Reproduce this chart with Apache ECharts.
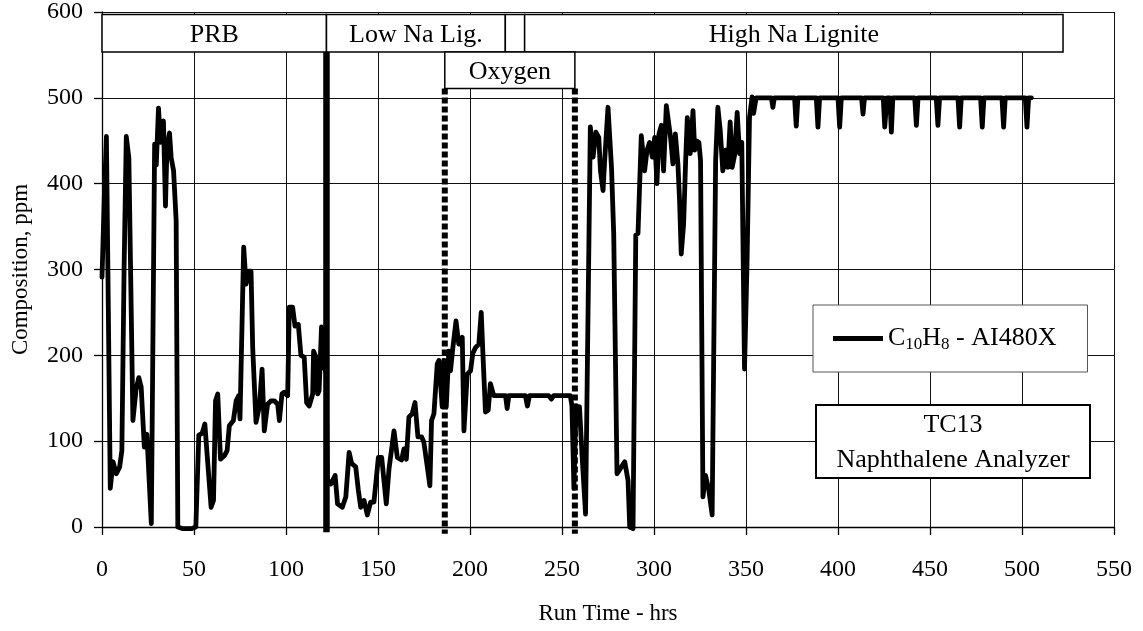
<!DOCTYPE html>
<html>
<head>
<meta charset="utf-8">
<script src="https://cdn.jsdelivr.net/npm/echarts@6/dist/echarts.min.js"></script>
<style>
  html, body { margin: 0; padding: 0; background: #fff; }
  #chart { width: 1143px; height: 631px; }
</style>
</head>
<body>
<div id="chart"></div>
<script>
// Naphthalene analyzer reading (ppm) against run time (hrs)
var runHours = [
  0, 1.2, 2.4, 3.2, 4.5, 6, 7.8, 9.6, 10.8, 12, 13.2, 14.6, 16.8, 18.5, 20, 21.3, 23, 24.4, 26.8, 28.6,
  29.5, 30.7, 31.8, 33.4, 34.5, 35.3, 36.7, 37.6, 38.9, 40.3, 41.2, 44, 48.5, 51, 52.6, 54.4, 55.9, 57.5, 59.3, 60.6,
  61.7, 62.9, 64.4, 66.5, 68, 69.2, 71.4, 72.9, 74.3, 75, 77, 78.3, 79.6, 81, 81.9, 83.7, 85.5, 87, 88.2, 90,
  91.8, 93.7, 95.5, 96.4, 97.8, 99, 100.9, 101.8, 103.6, 104.9, 106.7, 108.1, 109.9, 111.2, 112.6, 114.5, 115, 116.3, 117.2, 118,
  119.3, 119.9, 121.8, 122.5, 124.3, 126.7, 128, 130.6, 132.5, 134.3, 135.7, 137.9, 139.3, 140.6, 142.4, 144.2, 146, 147.8, 150.2, 152,
  154.5, 156, 158.7, 160.5, 162.8, 164.1, 165.4, 166.8, 168.6, 170.1, 171.7, 173.7, 174.9, 176.8, 178.2, 179.1, 180.4, 182.2, 183.1, 184.9,
  185.8, 187.1, 188.5, 189.4, 190.7, 192.4, 193.9, 195.8, 196.7, 198.5, 200.3, 201.5, 203, 204.8, 206.1, 207.1, 208.4, 209.9, 211.1, 212.9,
  219.3, 220.2, 221.1, 230.1, 231.2, 232.3, 242.8, 244.2, 245.5, 254.5, 255.4, 256.5, 257.6, 259.5, 261, 262.8, 265.4, 266.9, 268.4, 270,
  270.9, 272.3, 273.2, 275, 276.9, 278.1, 279.9, 282.3, 284.1, 285.9, 286.8, 288.6, 290.1, 291.3, 293.1, 294.9, 296.2, 297.6, 299.1, 300.4,
  301.6, 302.7, 304, 305.2, 306.7, 308, 309, 310.3, 311.6, 313, 313.9, 314.8, 316.1, 317.2, 318.1, 319.7, 321.2, 322.1, 323, 324.4,
  325.3, 326.6, 328, 329.8, 331.6, 333.5, 334.7, 336, 337.4, 338.9, 340.1, 341.4, 342.5, 343.8, 345.2, 346.5, 347.7, 349.2, 350.6, 351.9,
  353.3, 354.1, 355.5, 363.8, 364.6, 365.4, 376.4, 377.3, 378.2, 388.2, 389.1, 390, 400, 400.9, 401.8, 412.8, 413.6, 414.4, 424.6, 425.4,
  426.6, 428.2, 429, 429.8, 441.7, 442.6, 443.5, 453.4, 454.3, 455.2, 465.2, 466.1, 467, 477.5, 478.4, 479.3, 489.1, 490, 490.9, 501.8,
  502.7, 503.6, 505.1
];
var naphthalenePpm = [
  291, 380, 455, 300, 45, 76, 62, 70, 89, 300, 455, 430, 124, 160, 174, 163, 93, 108, 4, 446,
  422, 488, 448, 473, 374, 442, 459, 430, 415, 357, 0, -2, -2, 0, 107, 109, 120, 74, 23, 31,
  147, 155, 79, 83, 89, 118, 124, 147, 153, 126, 326, 283, 298, 298, 209, 122, 140, 184, 112, 143,
  147, 147, 143, 124, 155, 157, 153, 256, 256, 234, 236, 200, 198, 145, 141, 155, 205, 198, 155, 159,
  233, 190, 180, 55, 50, 60, 27, 23, 35, 87, 74, 70, 43, 23, 31, 14, 29, 29, 81, 81,
  27, 68, 112, 81, 78, 91, 79, 128, 132, 145, 105, 105, 99, 70, 48, 124, 132, 190, 194, 140,
  194, 140, 205, 182, 209, 240, 213, 221, 112, 178, 182, 202, 209, 213, 250, 198, 134, 136, 167, 153,
  153, 138, 153, 153, 141, 153, 153, 149, 153, 153, 141, 45, 141, 140, 80, 15, 466, 431, 460, 454,
  415, 392, 427, 489, 419, 342, 62, 70, 76, 54, 0, -2, 340, 342, 456, 415, 439, 448, 431, 454,
  400, 458, 468, 415, 491, 470, 454, 423, 458, 423, 380, 318, 353, 427, 477, 435, 485, 439, 450, 448,
  427, 35, 60, 43, 14, 427, 489, 462, 415, 439, 419, 472, 419, 433, 483, 435, 448, 184, 311, 477,
  501, 482, 500, 500, 489, 500, 500, 467, 500, 500, 466, 500, 500, 466, 500, 500, 481, 500, 500, 466,
  500, 500, 460, 500, 500, 468, 500, 500, 468, 500, 500, 466, 500, 500, 466, 500, 500, 466, 500, 500,
  466, 500, 500
];

// Fuel periods across the top: [label, start hrs, end hrs]
var fuelPeriods = [
  ['PRB', -2.2, 122],
  ['Low Na Lig.', 122, 219.2],
  ['', 219.2, 229.7],
  ['High Na Lignite', 229.7, 522.3]
];
var fuelBand = [553.5, 597];
// Oxygen period: start/end hrs and its label band
var oxygenPeriod = ['Oxygen', 186.3, 257];
var oxygenBand = [511, 553.5];
var oxygenLineSpan = [511, -8];
// Fuel changeover marker
var changeoverHrs = 122;
var changeoverSpan = [553.5, -6];

var xTicks = { min: 0, max: 550, step: 50 };
var yTicks = { min: 0, max: 600, step: 100 };

var seriesName = 'C10H8 - AI480X';
var serif = '"Liberation Serif", "Times New Roman", serif';

var lineData = runHours.map(function (h, i) { return [h, naphthalenePpm[i]]; });

var areas = fuelPeriods.map(function (p) {
  return [
    { name: p[0], coord: [p[1], fuelBand[1]] },
    { coord: [p[2], fuelBand[0]] }
  ];
});
areas.push([
  { name: oxygenPeriod[0], coord: [oxygenPeriod[1], oxygenBand[1]] },
  { coord: [oxygenPeriod[2], oxygenBand[0]] }
]);

var chart = echarts.init(document.getElementById('chart'), null, { renderer: 'canvas' });

chart.setOption({
  animation: false,
  backgroundColor: '#fff',
  grid: { left: 102, right: 29, top: 12, bottom: 104, containLabel: false },
  title: {
    text: 'TC13\nNaphthalene Analyzer',
    left: 932,
    top: 405,
    textAlign: 'center',
    textVerticalAlign: 'top',
    padding: [3, 21, 0, 21],
    backgroundColor: '#fff',
    borderColor: '#000',
    borderWidth: 2,
    textStyle: { fontFamily: serif, fontSize: 26, fontWeight: 'normal', color: '#000', lineHeight: 35 }
  },
  legend: {
    data: [seriesName],
    left: 813,
    top: 305,
    orient: 'horizontal',
    padding: [19, 31, 19, 20],
    backgroundColor: '#fff',
    borderColor: '#555',
    borderWidth: 1,
    icon: 'rect',
    itemWidth: 50,
    itemHeight: 5,
    itemGap: 0,
    selectedMode: false,
    formatter: function () {
      return '{n|C}{s|10}{n|H}{s|8}{n| - AI480X}';
    },
    textStyle: {
      fontFamily: serif,
      color: '#000',
      rich: {
        n: { fontFamily: serif, fontSize: 26, color: '#000', lineHeight: 30 },
        s: { fontFamily: serif, fontSize: 17, color: '#000', padding: [12, 0, 0, 0], lineHeight: 18 }
      }
    }
  },
  xAxis: {
    type: 'value',
    min: xTicks.min,
    max: xTicks.max,
    interval: xTicks.step,
    name: 'Run Time - hrs',
    nameLocation: 'middle',
    nameGap: 75,
    nameTextStyle: { fontFamily: serif, fontSize: 23, color: '#000' },
    axisLine: { show: true, onZero: false, lineStyle: { color: '#000', width: 1.3 } },
    axisTick: { show: true, inside: false, length: 8, lineStyle: { color: '#000', width: 1.3 } },
    axisLabel: { fontFamily: serif, fontSize: 24, color: '#000', margin: 31 },
    splitLine: { show: true, lineStyle: { color: '#111', width: 1 } }
  },
  yAxis: {
    type: 'value',
    min: yTicks.min,
    max: yTicks.max,
    interval: yTicks.step,
    name: 'Composition, ppm',
    nameLocation: 'middle',
    nameGap: 70,
    nameTextStyle: { fontFamily: serif, fontSize: 23, color: '#000' },
    axisLine: { show: true, onZero: false, lineStyle: { color: '#000', width: 1.3 } },
    axisTick: { show: true, inside: false, length: 8, lineStyle: { color: '#000', width: 1.3 } },
    axisLabel: { fontFamily: serif, fontSize: 24, color: '#000', margin: 19 },
    splitLine: { show: true, lineStyle: { color: '#111', width: 1 } }
  },
  series: [
    {
      name: seriesName,
      type: 'line',
      data: lineData,
      clip: false,
      showSymbol: false,
      symbol: 'none',
      color: '#000',
      lineStyle: { color: '#000', width: 4.8, join: 'round', cap: 'round' },
      z: 3
    },
    {
      name: 'changeover',
      type: 'line',
      data: [[changeoverHrs, changeoverSpan[0]], [changeoverHrs, changeoverSpan[1]]],
      clip: false,
      showSymbol: false,
      symbol: 'none',
      lineStyle: { color: '#000', width: 6.5, cap: 'butt' },
      z: 4
    },
    {
      name: 'oxygenStart',
      type: 'line',
      data: [[oxygenPeriod[1], oxygenLineSpan[0]], [oxygenPeriod[1], oxygenLineSpan[1]]],
      clip: false,
      showSymbol: false,
      symbol: 'none',
      lineStyle: { color: '#000', width: 6, type: [6, 3], cap: 'butt' },
      z: 4
    },
    {
      name: 'oxygenEnd',
      type: 'line',
      data: [[oxygenPeriod[2], oxygenLineSpan[0]], [oxygenPeriod[2], oxygenLineSpan[1]]],
      clip: false,
      showSymbol: false,
      symbol: 'none',
      lineStyle: { color: '#000', width: 6, type: [6, 3], cap: 'butt' },
      z: 4
    },
    {
      name: 'periods',
      type: 'line',
      data: [],
      z: 6,
      markArea: {
        silent: true,
        z: 6,
        itemStyle: { color: '#fff', borderColor: '#000', borderWidth: 1.5 },
        label: {
          show: true,
          position: 'inside',
          offset: [0, 2],
          fontFamily: serif,
          fontSize: 26,
          color: '#000'
        },
        emphasis: { disabled: true },
        data: areas
      }
    }
  ]
});
</script>
</body>
</html>
